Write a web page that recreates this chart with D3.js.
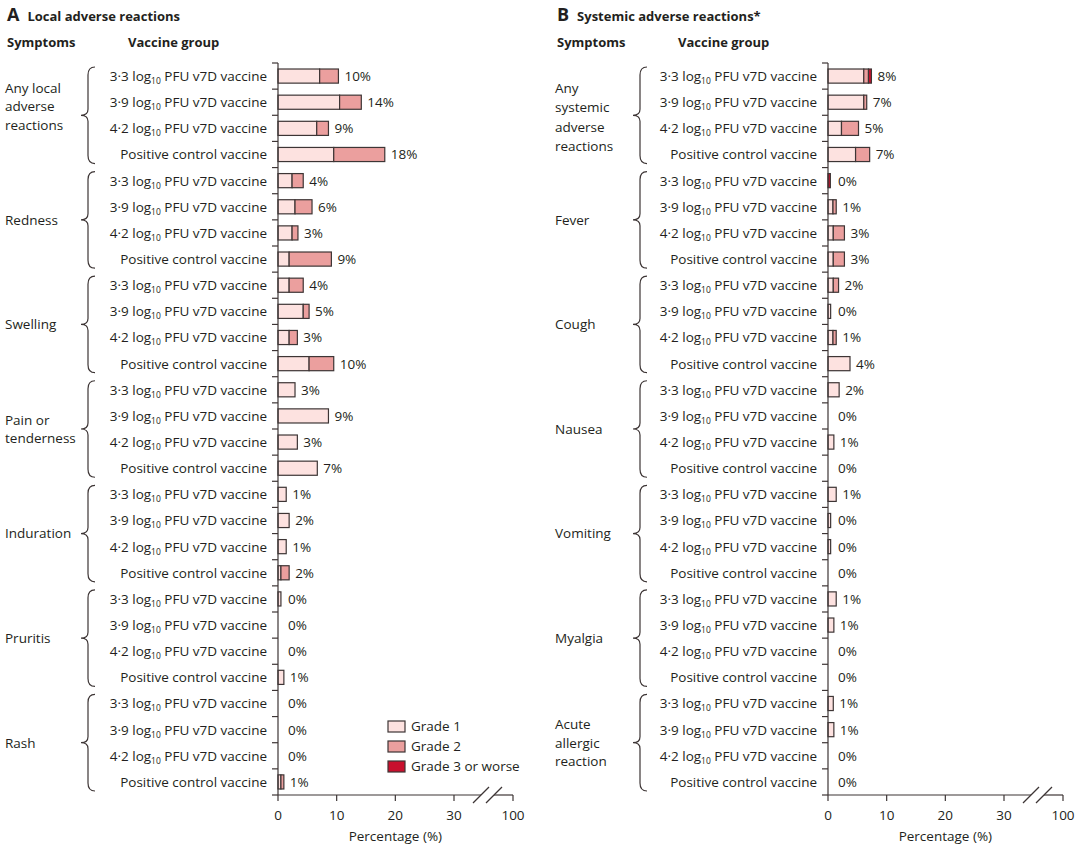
<!DOCTYPE html>
<html>
<head>
<meta charset="utf-8">
<script src="https://cdn.jsdelivr.net/npm/d3@7"></script>
<style>
  body { margin: 0; background: #fff; }
  text { font-family: "Open Sans", "DejaVu Sans", sans-serif; fill: #231f20; }
</style>
</head>
<body>
<div id="chart"></div>
<script>
// Data (percent of participants)
var vaccineGroups = ["3·3", "3·9", "4·2", "Positive control vaccine"];
var gradeNames = ["Grade 1", "Grade 2", "Grade 3 or worse"];
var gradeColors = ["#fde2e0", "#eb9f9e", "#c8102e"];

var localSymptoms = [["Any local", "adverse", "reactions"], ["Redness"], ["Swelling"],
  ["Pain or", "tenderness"], ["Induration"], ["Pruritis"], ["Rash"]];
var localGrade1 = [7.1, 10.5, 6.6, 9.5, 2.4, 2.9, 2.4, 1.9, 1.9, 4.3, 1.9, 5.3, 2.9, 8.6, 3.3, 6.7,
  1.4, 1.9, 1.4, 0.5, 0.5, 0, 0, 1.0, 0, 0, 0, 0.5];
var localGrade2 = [3.2, 3.7, 2.0, 8.7, 1.9, 2.9, 1.0, 7.2, 2.4, 1.0, 1.4, 4.2, 0, 0, 0, 0,
  0, 0, 0, 1.4, 0, 0, 0, 0, 0, 0, 0, 0.5];
var localGrade3 = [0, 0, 0, 0, 0, 0, 0, 0, 0, 0, 0, 0, 0, 0, 0, 0,
  0, 0, 0, 0, 0, 0, 0, 0, 0, 0, 0, 0];
var localLabels = [10, 14, 9, 18, 4, 6, 3, 9, 4, 5, 3, 10, 3, 9, 3, 7, 1, 2, 1, 2, 0, 0, 0, 1, 0, 0, 0, 1];

var systemicSymptoms = [["Any", "systemic", "adverse", "reactions"], ["Fever"], ["Cough"],
  ["Nausea"], ["Vomiting"], ["Myalgia"], ["Acute", "allergic", "reaction"]];
var systemicGrade1 = [6.1, 6.1, 2.3, 4.7, 0, 0.85, 0.9, 0.9, 0.9, 0.45, 0.85, 3.75, 1.9, 0, 1.0, 0,
  1.4, 0.45, 0.45, 0, 1.4, 1.0, 0, 0, 0.9, 1.0, 0, 0];
var systemicGrade2 = [0.8, 0.5, 2.9, 2.4, 0, 0.55, 1.9, 1.9, 0.9, 0, 0.55, 0, 0, 0, 0, 0,
  0, 0, 0, 0, 0, 0, 0, 0, 0, 0, 0, 0];
var systemicGrade3 = [0.5, 0, 0, 0, 0.4, 0, 0, 0, 0, 0, 0, 0, 0, 0, 0, 0,
  0, 0, 0, 0, 0, 0, 0, 0, 0, 0, 0, 0];
var systemicLabels = [8, 7, 5, 7, 0, 1, 3, 3, 2, 0, 1, 4, 2, 0, 1, 0, 1, 0, 0, 0, 1, 1, 0, 0, 1, 1, 0, 0];

var xTicks = [0, 10, 20, 30, 100];

var svg = d3.select("#chart").append("svg")
  .attr("width", 1080)
  .attr("height", 854);

var yScale = d3.scaleBand()
  .domain(d3.range(28))
  .range([63, 795])
  .paddingInner(0.46)
  .paddingOuter(0.23);
var step = yScale.step();

function drawPanel(opt) {
  var g = svg.append("g");

  // titles
  var t = g.append("text").attr("x", opt.left + 2).attr("y", 21)
    .style("font-weight", "bold");
  t.append("tspan").style("font-size", "18px").text(opt.letter);
  t.append("tspan").attr("dx", 8).style("font-size", "13px").text(opt.title);
  g.append("text").attr("x", opt.left + 2).attr("y", 47)
    .style("font-weight", "bold").style("font-size", "13px").text("Symptoms");
  g.append("text").attr("x", opt.left + 123).attr("y", 47)
    .style("font-weight", "bold").style("font-size", "13px").text("Vaccine group");

  // piecewise scale with axis break between 30 and 100
  var x = d3.scaleLinear().domain([0, 30, 100]).range([opt.x0, opt.x0 + 176, opt.x0 + 235]);

  var rows = d3.range(28).map(function(i) {
    return { i: i, g1: opt.g1[i], g2: opt.g2[i], g3: opt.g3[i], label: opt.labels[i] };
  });

  // bars: stacked grade segments
  var stack = [];
  rows.forEach(function(d) {
    var s = 0;
    [d.g1, d.g2, d.g3].forEach(function(v, k) {
      if (v > 0) stack.push({ i: d.i, k: k, start: s, end: s + v });
      s += v;
    });
    d.total = s;
  });

  g.selectAll("rect.seg")
    .data(stack)
    .enter()
    .append("rect")
    .attr("class", "seg")
    .attr("x", d => x(d.start))
    .attr("y", d => yScale(d.i))
    .attr("width", d => x(d.end) - x(d.start))
    .attr("height", yScale.bandwidth())
    .attr("fill", d => gradeColors[d.k])
    .attr("stroke", "#3d3535")
    .attr("stroke-width", 1.2);

  // value labels
  g.selectAll("text.val")
    .data(rows)
    .enter()
    .append("text")
    .attr("class", "val")
    .attr("x", d => Math.max(x(d.total), opt.x0 + 4) + 6)
    .attr("y", d => yScale(d.i) + yScale.bandwidth() / 2)
    .attr("dy", "0.36em")
    .style("font-size", "13.5px")
    .text(d => d.label + "%");

  // vaccine group labels
  var vl = g.selectAll("text.vac")
    .data(rows)
    .enter()
    .append("text")
    .attr("class", "vac")
    .attr("x", opt.x0 - 11)
    .attr("y", d => yScale(d.i) + yScale.bandwidth() / 2)
    .attr("dy", "0.36em")
    .attr("text-anchor", "end")
    .style("font-size", "13.5px");
  vl.each(function(d) {
    var el = d3.select(this);
    var v = vaccineGroups[d.i % 4];
    if (d.i % 4 === 3) { el.text(v); return; }
    el.append("tspan").text(v + " log");
    el.append("tspan").attr("dy", 3).style("font-size", "8.5px").text("10");
    el.append("tspan").attr("dy", -3).text(" PFU v7D vaccine");
  });

  // y axis line with ticks at row boundaries
  g.append("line")
    .attr("x1", opt.x0).attr("x2", opt.x0)
    .attr("y1", 63).attr("y2", 795)
    .attr("stroke", "#3d3535").attr("stroke-width", 1.2);
  g.selectAll("line.ytick")
    .data(d3.range(29))
    .enter()
    .append("line")
    .attr("class", "ytick")
    .attr("x1", opt.x0 - 6).attr("x2", opt.x0)
    .attr("y1", d => 63 + d * step).attr("y2", d => 63 + d * step)
    .attr("stroke", "#3d3535").attr("stroke-width", 1.2);

  // symptom groups: label and curly brace
  opt.symptoms.forEach(function(lines, gi) {
    var top = yScale(gi * 4) - 2;
    var bot = yScale(gi * 4 + 3) + yScale.bandwidth() + 2;
    var mid = (top + bot) / 2;
    var lmid = mid + (opt.labelShift[gi] || 0);
    var lh = lines.length > 3 ? 19.3 : 18.5;
    var txt = g.append("text").attr("x", opt.left).style("font-size", "13.5px");
    lines.forEach(function(l, li) {
      txt.append("tspan")
        .attr("x", opt.left)
        .attr("y", lmid + (li - (lines.length - 1) / 2) * lh)
        .attr("dy", "0.36em")
        .text(l);
    });
    var bx = opt.braceX, w = 7;
    var p = d3.path();
    p.moveTo(bx + w, top);
    p.quadraticCurveTo(bx, top, bx, top + 8);
    p.lineTo(bx, mid - 6);
    p.quadraticCurveTo(bx, mid, bx - w, mid);
    p.quadraticCurveTo(bx, mid, bx, mid + 6);
    p.lineTo(bx, bot - 8);
    p.quadraticCurveTo(bx, bot, bx + w, bot);
    g.append("path").attr("d", p.toString())
      .attr("fill", "none").attr("stroke", "#3d3535").attr("stroke-width", 1.2);
  });

  // x axis with break
  var axisY = 795;
  var b1 = opt.x0 + 203, b2 = opt.x0 + 216;
  g.append("line").attr("x1", opt.x0).attr("x2", b1).attr("y1", axisY).attr("y2", axisY)
    .attr("stroke", "#3d3535").attr("stroke-width", 1.2);
  g.append("line").attr("x1", b2).attr("x2", x(100)).attr("y1", axisY).attr("y2", axisY)
    .attr("stroke", "#3d3535").attr("stroke-width", 1.2);
  [b1, b2].forEach(function(bx) {
    g.append("line").attr("x1", bx - 8).attr("x2", bx + 8)
      .attr("y1", axisY + 8).attr("y2", axisY - 8)
      .attr("stroke", "#3d3535").attr("stroke-width", 1.2);
  });
  g.selectAll("line.xtick")
    .data(xTicks)
    .enter()
    .append("line")
    .attr("class", "xtick")
    .attr("x1", d => x(d)).attr("x2", d => x(d))
    .attr("y1", axisY).attr("y2", axisY + 6)
    .attr("stroke", "#3d3535").attr("stroke-width", 1.2);
  g.selectAll("text.xlab")
    .data(xTicks)
    .enter()
    .append("text")
    .attr("class", "xlab")
    .attr("x", d => x(d))
    .attr("y", axisY + 20)
    .attr("dy", "0.36em")
    .attr("text-anchor", "middle")
    .style("font-size", "13.5px")
    .text(d => d);
  g.append("text")
    .attr("x", x(20))
    .attr("y", axisY + 41)
    .attr("dy", "0.36em")
    .attr("text-anchor", "middle")
    .style("font-size", "13.5px")
    .text("Percentage (%)");

  if (opt.legend) {
    var lg = g.append("g").attr("transform", "translate(388,721)");
    gradeNames.forEach(function(n, k) {
      lg.append("rect").attr("x", 0).attr("y", k * 20).attr("width", 17).attr("height", 11)
        .attr("fill", gradeColors[k]).attr("stroke", "#3d3535").attr("stroke-width", 1.2);
      lg.append("text").attr("x", 23).attr("y", k * 20 + 5.5).attr("dy", "0.36em")
        .style("font-size", "13.5px").text(n);
    });
  }
}

drawPanel({
  letter: "A", title: "Local adverse reactions", left: 5, x0: 278, braceX: 88,
  symptoms: localSymptoms, g1: localGrade1, g2: localGrade2, g3: localGrade3,
  labels: localLabels, legend: true, labelShift: [-9, 0, 0, 0, 0, 0, 0]
});
drawPanel({
  letter: "B", title: "Systemic adverse reactions*", left: 555, x0: 828, braceX: 640,
  symptoms: systemicSymptoms, g1: systemicGrade1, g2: systemicGrade2, g3: systemicGrade3,
  labels: systemicLabels, legend: false, labelShift: [2, 0, 0, 0, 0, 0, 0]
});
</script>
</body>
</html>
